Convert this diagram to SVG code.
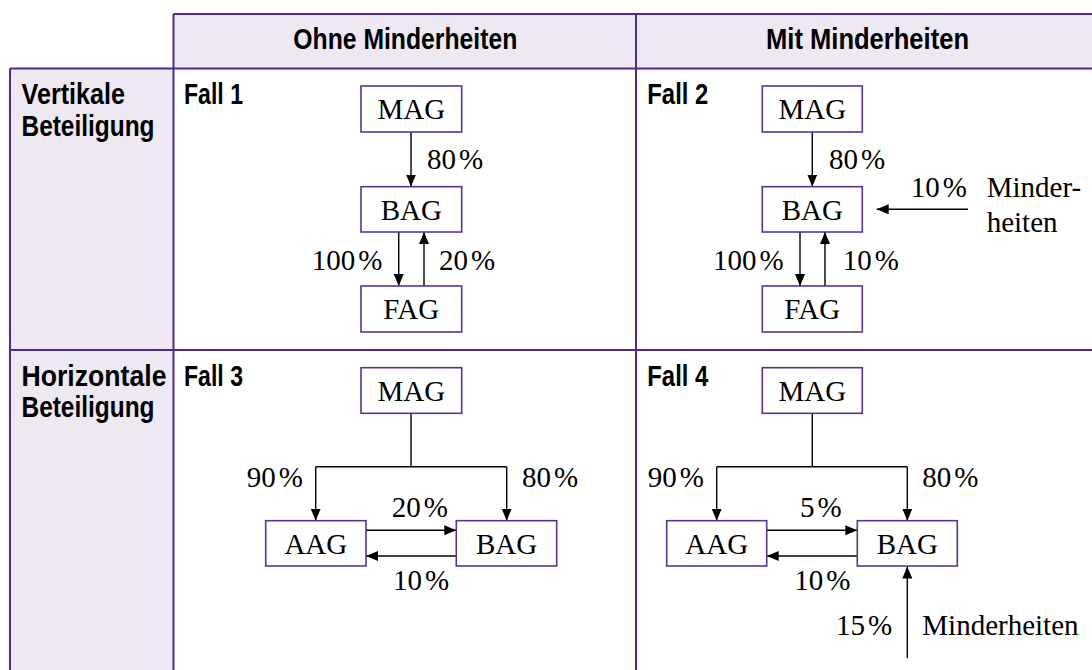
<svg xmlns="http://www.w3.org/2000/svg" width="1092" height="670" viewBox="0 0 1092 670">
<style>
.grid{stroke:#4f2a8e;stroke-width:2;fill:none}
.hdr{fill:#ede8f2}
.h{font-family:"Liberation Sans",Arial,sans-serif;font-weight:bold;font-size:29px;fill:#000}
.box{fill:#fff;stroke:#5a3296;stroke-width:1.6}
.t{font-family:"Liberation Serif","Times New Roman",serif;font-size:29px;fill:#000}
.c{stroke:#000;stroke-width:1.4;fill:none}
.a{marker-end:url(#ah)}
</style>
<defs>
<marker id="ah" markerUnits="userSpaceOnUse" markerWidth="13" markerHeight="11" refX="12" refY="5" orient="auto">
<path d="M0,0 L12,5 L0,10 z" fill="#000"/>
</marker>
</defs>
<g id="table">
<rect class="hdr" x="173.5" y="14" width="930" height="54.5"/>
<rect class="hdr" x="10" y="68.5" width="163.5" height="610"/>
<line class="grid" x1="173.5" y1="14" x2="1100" y2="14"/>
<line class="grid" x1="10" y1="68.5" x2="1100" y2="68.5"/>
<line class="grid" x1="10" y1="350" x2="1100" y2="350"/>
<line class="grid" x1="10" y1="68.5" x2="10" y2="680"/>
<line class="grid" x1="173.5" y1="14" x2="173.5" y2="680"/>
<line class="grid" x1="636" y1="14" x2="636" y2="680"/>
<text class="h" x="293.3" y="49.3" textLength="224" lengthAdjust="spacingAndGlyphs">Ohne Minderheiten</text>
<text class="h" x="766" y="49.3" textLength="203" lengthAdjust="spacingAndGlyphs">Mit Minderheiten</text>
<text class="h" x="21.5" y="104" textLength="103.5" lengthAdjust="spacingAndGlyphs">Vertikale</text>
<text class="h" x="21.5" y="136" textLength="133" lengthAdjust="spacingAndGlyphs">Beteiligung</text>
<text class="h" x="21.5" y="386" textLength="145" lengthAdjust="spacingAndGlyphs">Horizontale</text>
<text class="h" x="21.5" y="417" textLength="133" lengthAdjust="spacingAndGlyphs">Beteiligung</text>
<text class="h" x="184" y="104" textLength="59" lengthAdjust="spacingAndGlyphs">Fall 1</text>
<text class="h" x="647.3" y="104" textLength="61" lengthAdjust="spacingAndGlyphs">Fall 2</text>
<text class="h" x="184" y="385.5" textLength="59" lengthAdjust="spacingAndGlyphs">Fall 3</text>
<text class="h" x="647.3" y="385.5" textLength="61" lengthAdjust="spacingAndGlyphs">Fall 4</text>
</g>
<g id="connectors">
<line class="c a" x1="411" y1="132" x2="411" y2="186.5"/>
<line class="c a" x1="398.7" y1="232" x2="398.7" y2="286"/>
<line class="c a" x1="424" y1="286" x2="424" y2="232"/>
<line class="c a" x1="812.3" y1="132" x2="812.3" y2="186.5"/>
<line class="c a" x1="800" y1="232" x2="800" y2="286"/>
<line class="c a" x1="825" y1="286" x2="825" y2="232"/>
<line class="c a" x1="968" y1="209.3" x2="876.7" y2="209.3"/>
<polyline class="c" points="411,413.3 411,466.7"/>
<polyline class="c" points="315.7,466.7 506.7,466.7"/>
<line class="c a" x1="315.7" y1="466.7" x2="315.7" y2="520.7"/>
<line class="c a" x1="506.7" y1="466.7" x2="506.7" y2="520.7"/>
<line class="c a" x1="366" y1="530.3" x2="456.3" y2="530.3"/>
<line class="c a" x1="456.3" y1="556" x2="366" y2="556"/>
<polyline class="c" points="812.3,413.3 812.3,466.7"/>
<polyline class="c" points="716.7,466.7 907.3,466.7"/>
<line class="c a" x1="716.7" y1="466.7" x2="716.7" y2="520.7"/>
<line class="c a" x1="907.3" y1="466.7" x2="907.3" y2="520.7"/>
<line class="c a" x1="766.7" y1="530.3" x2="857.3" y2="530.3"/>
<line class="c a" x1="857.3" y1="556" x2="766.7" y2="556"/>
<line class="c a" x1="907.3" y1="658.3" x2="907.3" y2="566.5"/>
</g>
<g id="labels">
<text class="t" x="427" y="169">80<tspan dx="3">%</tspan></text>
<text class="t" x="311.7" y="270">100<tspan dx="3">%</tspan></text>
<text class="t" x="439" y="270">20<tspan dx="3">%</tspan></text>
<text class="t" x="829" y="169">80<tspan dx="3">%</tspan></text>
<text class="t" x="713" y="270">100<tspan dx="3">%</tspan></text>
<text class="t" x="842.7" y="270">10<tspan dx="3">%</tspan></text>
<text class="t" x="910.7" y="196.7">10<tspan dx="3">%</tspan></text>
<text class="t" x="986.7" y="196.7">Minder-</text>
<text class="t" x="986.7" y="231.7">heiten</text>
<text class="t" x="246.7" y="486.7">90<tspan dx="3">%</tspan></text>
<text class="t" x="522" y="486.7">80<tspan dx="3">%</tspan></text>
<text class="t" x="391.7" y="517.3">20<tspan dx="3">%</tspan></text>
<text class="t" x="393" y="590">10<tspan dx="3">%</tspan></text>
<text class="t" x="647.7" y="486.7">90<tspan dx="3">%</tspan></text>
<text class="t" x="922.3" y="486.7">80<tspan dx="3">%</tspan></text>
<text class="t" x="800" y="517.3">5<tspan dx="3">%</tspan></text>
<text class="t" x="794.3" y="590">10<tspan dx="3">%</tspan></text>
<text class="t" x="836" y="635">15<tspan dx="3">%</tspan></text>
<text class="t" x="922.3" y="635">Minderheiten</text>
</g>
<g id="f1-mag"><rect class="box" x="361" y="86" width="100.7" height="46"/><text class="t" x="411.3" y="119" text-anchor="middle">MAG</text></g>
<g id="f1-bag"><rect class="box" x="361" y="186.7" width="100.7" height="45.3"/><text class="t" x="411.3" y="219.5" text-anchor="middle">BAG</text></g>
<g id="f1-fag"><rect class="box" x="361" y="286" width="100.7" height="46"/><text class="t" x="411.3" y="319" text-anchor="middle">FAG</text></g>
<g id="f2-mag"><rect class="box" x="762.3" y="86" width="100" height="46"/><text class="t" x="812.3" y="119" text-anchor="middle">MAG</text></g>
<g id="f2-bag"><rect class="box" x="762.3" y="186.7" width="100" height="45.3"/><text class="t" x="812.3" y="219.5" text-anchor="middle">BAG</text></g>
<g id="f2-fag"><rect class="box" x="762.3" y="286" width="100" height="46"/><text class="t" x="812.3" y="319" text-anchor="middle">FAG</text></g>
<g id="f3-mag"><rect class="box" x="361" y="367.7" width="100.7" height="45.6"/><text class="t" x="411.3" y="400.5" text-anchor="middle">MAG</text></g>
<g id="f3-aag"><rect class="box" x="265.7" y="520.7" width="100.3" height="45.3"/><text class="t" x="315.8" y="553.5" text-anchor="middle">AAG</text></g>
<g id="f3-bag"><rect class="box" x="456.3" y="520.7" width="100.4" height="45.3"/><text class="t" x="506.5" y="553.5" text-anchor="middle">BAG</text></g>
<g id="f4-mag"><rect class="box" x="762.3" y="367.7" width="100" height="45.6"/><text class="t" x="812.3" y="400.5" text-anchor="middle">MAG</text></g>
<g id="f4-aag"><rect class="box" x="666.7" y="520.7" width="100" height="45.3"/><text class="t" x="716.7" y="553.5" text-anchor="middle">AAG</text></g>
<g id="f4-bag"><rect class="box" x="857.3" y="520.7" width="100" height="45.3"/><text class="t" x="907.3" y="553.5" text-anchor="middle">BAG</text></g>
</svg>
